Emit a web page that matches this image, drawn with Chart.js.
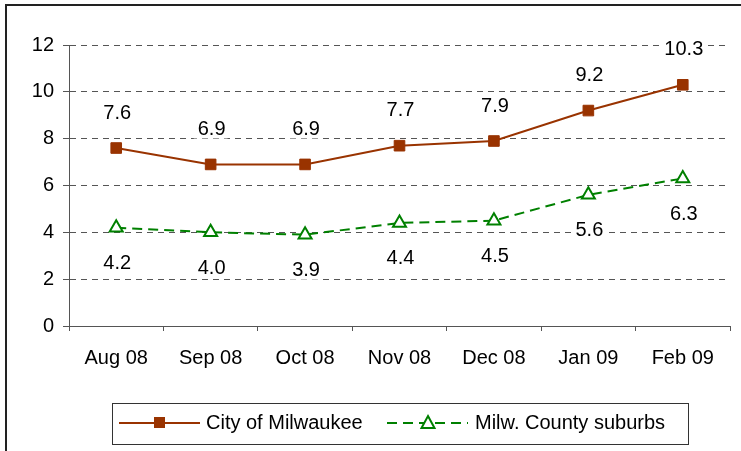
<!DOCTYPE html>
<html>
<head>
<meta charset="utf-8">
<script src="https://cdn.jsdelivr.net/npm/chart.js@4/dist/chart.umd.min.js"></script>
<style>
  html, body { margin: 0; padding: 0; background: #fff; }
  #wrap { width: 741px; height: 451px; position: relative; }
</style>
</head>
<body>
<div id="wrap"><canvas id="chart" width="741" height="451"></canvas></div>
<script>
const months = ['Aug 08', 'Sep 08', 'Oct 08', 'Nov 08', 'Dec 08', 'Jan 09', 'Feb 09'];
const cityValues = [7.6, 6.9, 6.9, 7.7, 7.9, 9.2, 10.3];
const suburbValues = [4.2, 4.0, 3.9, 4.4, 4.5, 5.6, 6.3];
const seriesNames = ['City of Milwaukee', 'Milw. County suburbs'];
const yTicks = [0, 2, 4, 6, 8, 10, 12];

const RED = '#993300';
const GREEN = '#008000';
const FONT = "'Liberation Sans', Arial, sans-serif";

// value labels with a white box behind them (covers the gridlines)
const valueLabels = {
  id: 'valueLabels',
  beforeDatasetsDraw(chart) {
    const ctx = chart.ctx;
    ctx.save();
    ctx.font = '20px ' + FONT;
    ctx.textAlign = 'center';
    ctx.textBaseline = 'middle';
    chart.data.datasets.forEach((ds, i) => {
      const meta = chart.getDatasetMeta(i);
      meta.data.forEach((pt, j) => {
        const txt = ds.data[j].toFixed(1);
        const y = i === 0 ? pt.y - 36 : pt.y + 35;
        const w = ctx.measureText(txt).width;
        ctx.fillStyle = '#fff';
        ctx.fillRect(pt.x - w / 2 - 3, y - 10, w + 6, 20);
        ctx.fillStyle = '#000';
        ctx.fillText(txt, pt.x + 1, y + 1);
      });
    });
    ctx.restore();
  }
};

// frame and legend box like the original
const frameLegend = {
  id: 'frameLegend',
  afterDraw(chart) {
    const ctx = chart.ctx;
    ctx.save();
    ctx.strokeStyle = '#222';
    ctx.lineWidth = 2;
    ctx.strokeRect(6, 5, 740, 450);

    ctx.lineWidth = 1;
    ctx.strokeStyle = '#333';
    ctx.strokeRect(112.5, 403.5, 576, 41);

    const cy = 423;
    // city
    ctx.strokeStyle = RED;
    ctx.lineWidth = 2;
    ctx.setLineDash([]);
    ctx.beginPath(); ctx.moveTo(119, cy); ctx.lineTo(200, cy); ctx.stroke();
    ctx.fillStyle = RED;
    ctx.fillRect(154, cy - 6, 11, 11);
    // suburbs
    ctx.strokeStyle = GREEN;
    ctx.setLineDash([10, 6]);
    ctx.beginPath(); ctx.moveTo(387, cy); ctx.lineTo(468, cy); ctx.stroke();
    ctx.setLineDash([]);
    ctx.fillStyle = '#fff';
    ctx.beginPath();
    ctx.moveTo(428, cy - 7); ctx.lineTo(434.5, cy + 5); ctx.lineTo(421.5, cy + 5); ctx.closePath();
    ctx.fill(); ctx.stroke();

    ctx.fillStyle = '#000';
    ctx.font = '20px ' + FONT;
    ctx.textBaseline = 'middle';
    ctx.textAlign = 'left';
    ctx.fillText(seriesNames[0], 206, cy);
    ctx.fillText(seriesNames[1], 475, cy);
    ctx.restore();
  }
};

new Chart(document.getElementById('chart'), {
  type: 'line',
  data: {
    labels: months,
    datasets: [{
      label: seriesNames[0],
      data: cityValues,
      borderColor: RED,
      backgroundColor: RED,
      borderWidth: 2,
      pointStyle: 'rect',
      pointRadius: 7.5,
      pointBorderWidth: 1,
      tension: 0
    }, {
      label: seriesNames[1],
      data: suburbValues,
      borderColor: GREEN,
      backgroundColor: '#fff',
      borderWidth: 2,
      borderDash: [10, 6],
      pointStyle: 'triangle',
      pointRadius: 7.5,
      pointBorderWidth: 2,
      tension: 0
    }]
  },
  options: {
    responsive: false,
    animation: false,
    layout: { padding: { left: 0, right: 11, top: 45, bottom: 0 } },
    plugins: {
      legend: { display: false },
      tooltip: { enabled: false }
    },
    scales: {
      x: {
        offset: true,
        grid: {
          offset: true,
          drawOnChartArea: false,
          tickLength: 5,
          color: '#555'
        },
        border: { color: '#555', width: 1 },
        ticks: {
          color: '#000',
          font: { family: FONT, size: 20 },
          padding: 15,
          maxRotation: 0
        },
        afterFit(scale) { scale.height = 125; }
      },
      y: {
        min: 0,
        max: 12,
        afterBuildTicks(scale) { scale.ticks = yTicks.map(v => ({ value: v })); },
        grid: {
          color: '#555',
          tickLength: 6,
          lineWidth: 1
        },
        border: { color: '#555', width: 1, dash: [6, 5] },
        ticks: {
          color: '#000',
          font: { family: FONT, size: 20 },
          padding: 9
        },
        afterFit(scale) { scale.width = 69; }
      }
    }
  },
  plugins: [valueLabels, frameLegend]
});
</script>
</body>
</html>
